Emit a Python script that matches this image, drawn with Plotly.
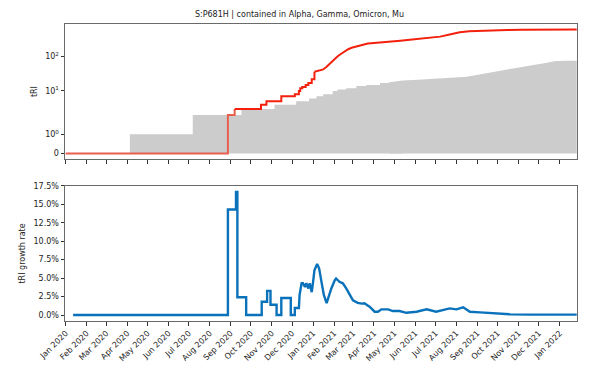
import numpy as np
import plotly.graph_objects as go
from plotly.subplots import make_subplots

title = "S:P681H | contained in Alpha, Gamma, Omicron, Mu"

# cumulative tRI of the mutation (red, step)
tri_dates = ["2020-01-01", "2020-08-28", "2020-09-07", "2020-10-16", "2020-10-24",
             "2020-11-15", "2020-12-05", "2020-12-11", "2020-12-13", "2020-12-16",
             "2020-12-21", "2020-12-25", "2020-12-30", "2021-01-03", "2021-01-08",
             "2021-01-16", "2021-01-21", "2021-01-26", "2021-02-02", "2021-02-06",
             "2021-02-10", "2021-02-14", "2021-02-17", "2021-02-22", "2021-02-27",
             "2021-03-05", "2021-03-11", "2021-03-17", "2021-03-23", "2021-04-01",
             "2021-04-10", "2021-04-24", "2021-05-10", "2021-05-24", "2021-06-03",
             "2021-06-20", "2021-07-08", "2021-07-22", "2021-08-06", "2021-08-20",
             "2021-09-05", "2021-09-24", "2021-10-15", "2021-11-05", "2021-12-01",
             "2022-01-01", "2022-01-26"]
tri_values = [0, 2, 3, 4, 5, 7, 8, 10, 12, 13, 15, 17, 22, 36, 38, 42, 50, 62, 87,
              100, 114, 130, 146, 162, 178, 192, 203, 220, 236, 245, 252, 264, 285,
              305, 317, 345, 375, 430, 500, 540, 560, 575, 585, 592, 596, 598, 600]

# background tRI (gray area, step)
bg_dates = ["2020-01-01", "2020-04-05", "2020-07-07", "2020-09-17", "2020-11-05",
            "2020-12-07", "2020-12-26", "2021-01-06", "2021-01-16", "2021-01-30",
            "2021-02-06", "2021-02-19", "2021-03-06", "2021-03-21", "2021-04-10",
            "2021-04-24", "2021-05-14", "2021-06-05", "2021-06-23", "2021-07-12",
            "2021-08-01", "2021-08-16", "2021-08-31", "2021-09-15", "2021-09-28",
            "2021-10-09", "2021-10-24", "2021-11-08", "2021-11-22", "2021-12-05",
            "2021-12-13", "2021-12-20", "2021-12-27", "2022-01-10", "2022-01-26"]
bg_values = [0, 1, 2, 3, 4, 5, 6, 7, 8, 10, 11, 12, 14, 15, 17, 18, 20, 21, 22, 23,
             24, 26, 29, 33, 37, 40, 45, 50, 55, 61, 66, 70, 74, 75, 75]

# tRI growth rate (blue, percent)
growth_dates = ["2020-01-12", "2020-08-28", "2020-08-28", "2020-09-09", "2020-09-09",
                "2020-09-11", "2020-09-11", "2020-09-24", "2020-09-24", "2020-10-17",
                "2020-10-17", "2020-10-25", "2020-10-25", "2020-10-30", "2020-10-30",
                "2020-11-08", "2020-11-08", "2020-11-15", "2020-11-15", "2020-11-29",
                "2020-11-29", "2020-12-05", "2020-12-05", "2020-12-11", "2020-12-12",
                "2020-12-15", "2020-12-17", "2020-12-20", "2020-12-22", "2020-12-25",
                "2020-12-27", "2020-12-30", "2021-01-01", "2021-01-03", "2021-01-07",
                "2021-01-10", "2021-01-13", "2021-01-17", "2021-01-21", "2021-01-24",
                "2021-01-28", "2021-02-02", "2021-02-04", "2021-02-09", "2021-02-14",
                "2021-02-19", "2021-02-24", "2021-03-01", "2021-03-08", "2021-03-14",
                "2021-03-18", "2021-03-26", "2021-04-02", "2021-04-07", "2021-04-12",
                "2021-04-22", "2021-04-29", "2021-05-09", "2021-05-19", "2021-06-03",
                "2021-06-18", "2021-07-02", "2021-07-22", "2021-08-01", "2021-08-11",
                "2021-08-21", "2021-09-05", "2021-09-25", "2021-10-19", "2021-11-18",
                "2021-12-23", "2022-01-26"]
growth_values = [0, 0, 14.29, 14.29, 16.67, 16.67, 2.4, 2.4, 0, 0,
                 1.8, 1.8, 3.27, 3.27, 1.4, 1.4, 0, 0, 2.3, 2.3,
                 0, 0, 0.95, 0.95, 2.7, 4.3, 4.3, 3.8, 4.3, 3.6,
                 4.3, 3.1, 4.5, 6.05, 6.9, 6.3, 4.7, 2.7, 1.6, 2.5,
                 3.6, 4.7, 4.95, 4.5, 4.3, 3.6, 2.7, 2.0, 1.65, 1.55,
                 1.6, 1.1, 0.45, 0.45, 0.77, 0.77, 0.54, 0.54, 0.3, 0.45,
                 0.77, 0.45, 0.9, 0.77, 1.04, 0.45, 0.36, 0.22, 0.1, 0.05,
                 0.1, 0.05]

# where the daily steps become too fine to see and the curves look smooth
tri_split = tri_dates.index("2021-01-03")
bg_split = bg_dates.index("2021-04-24")


def symlog(v, linthresh=2.0, base=10.0):
    # same transform as matplotlib's symlog scale (linscale=1)
    v = np.asarray(v, dtype=float)
    adj = 1.0 / (1.0 - 1.0 / base)
    a = np.maximum(np.abs(v), 1e-12)
    out = np.sign(v) * linthresh * (adj + np.log(a / linthresh) / np.log(base))
    return np.where(np.abs(v) <= linthresh, v * adj, out)


fig = make_subplots(rows=2, cols=1, shared_xaxes=True, vertical_spacing=0.09)

gray = "#cccccc"
# the step part runs one point into the smooth part so the two fills overlap
for sl, shape in [(slice(0, bg_split + 2), "hv"), (slice(bg_split, None), "linear")]:
    fig.add_trace(go.Scatter(x=bg_dates[sl], y=symlog(bg_values[sl]), mode="lines",
                             line=dict(shape=shape, width=0, color=gray),
                             fill="tozeroy", fillcolor=gray,
                             showlegend=False), row=1, col=1)

fig.add_trace(go.Scatter(x=tri_dates[:3], y=symlog(tri_values[:3]), mode="lines",
                         line=dict(shape="hv", width=2, color="#e8604c"),
                         showlegend=False), row=1, col=1)
for sl, shape in [(slice(2, tri_split + 1), "hv"), (slice(tri_split, None), "linear")]:
    fig.add_trace(go.Scatter(x=tri_dates[sl], y=symlog(tri_values[sl]), mode="lines",
                             line=dict(shape=shape, width=2, color="#f2200c"),
                             showlegend=False), row=1, col=1)

fig.add_trace(go.Scatter(x=growth_dates, y=np.array(growth_values) / 100, mode="lines",
                         line=dict(width=2.4, color="#0a72ba"),
                         showlegend=False), row=2, col=1)

font = dict(family="DejaVu Sans", size=8, color="#222")
axis_style = dict(showline=True, linecolor="#6a6a6a", linewidth=1, mirror=True,
                  ticks="outside", ticklen=3.5, tickwidth=0.8, tickcolor="#333",
                  showgrid=False, zeroline=False, tickfont=font)

fig.update_xaxes(**axis_style, range=["2019-12-31", "2022-01-26 10:00"],
                 dtick="M1", tick0="2020-01-01", tickformat="%b %Y")
fig.update_xaxes(showticklabels=False, row=1, col=1)
fig.update_xaxes(tickangle=-45, row=2, col=1)

fig.update_yaxes(**axis_style)
fig.update_yaxes(range=[-0.33, 7.5],
                 tickvals=symlog([0, 1, 10, 100]),
                 ticktext=["0", "10<sup>0</sup>", "10<sup>1</sup>", "10<sup>2</sup>"],
                 title=dict(text="tRI", font=font, standoff=6),
                 row=1, col=1)
fig.update_yaxes(range=[-0.0081, 0.175], dtick=0.025, tick0=0, tickformat=".1%",
                 title=dict(text="tRI growth rate", font=font, standoff=6),
                 row=2, col=1)

# page body has an 8px margin, so the figure is made 8px smaller each way
fig.update_layout(
    width=591, height=371,
    margin=dict(l=57, r=22, t=14, b=58),
    paper_bgcolor="white", plot_bgcolor="white",
    title=dict(text=title, x=0.4932, xanchor="center", y=0.984, yanchor="middle",
               font=font),
)
fig.layout.yaxis.domain = [0.545, 1.0]
fig.layout.yaxis2.domain = [0.0, 0.455]

fig.write_html("out.html")
